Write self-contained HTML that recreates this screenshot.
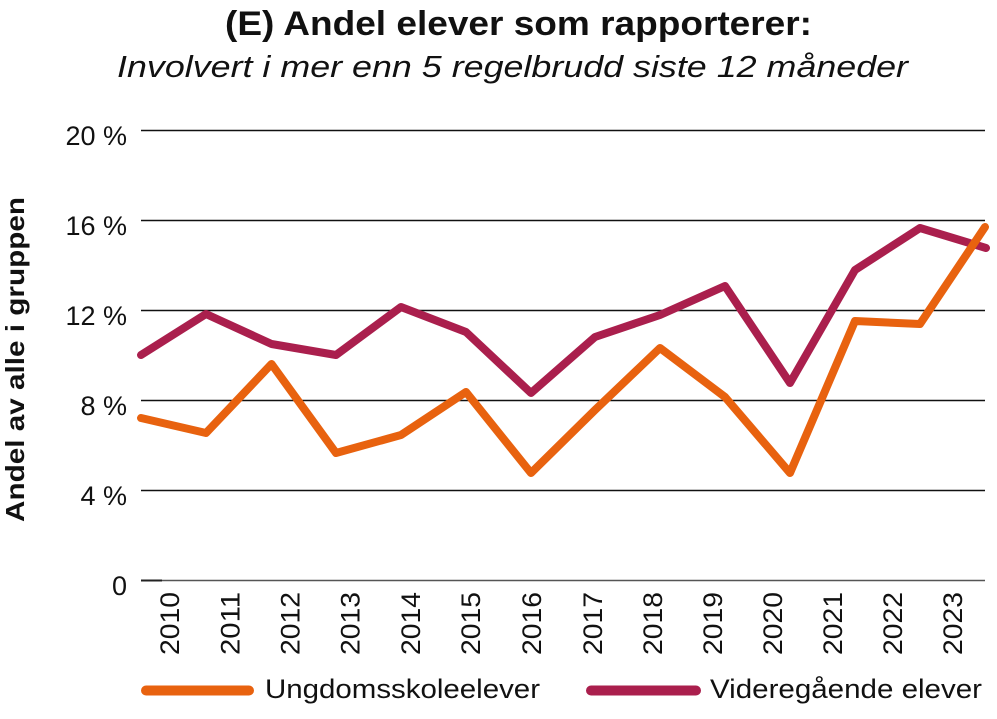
<!DOCTYPE html>
<html>
<head>
<meta charset="utf-8">
<style>
  html, body { margin:0; padding:0; background:#ffffff; }
  svg { display:block; }
  text { font-family: "Liberation Sans", "DejaVu Sans", sans-serif; fill:#111; }
</style>
</head>
<body>
<svg width="997" height="719" viewBox="0 0 997 719" xmlns="http://www.w3.org/2000/svg">
  <rect width="997" height="719" fill="#ffffff"/>

  <!-- Title -->
  <text x="225" y="35" font-size="34" font-weight="bold" textLength="587" lengthAdjust="spacingAndGlyphs">(E) Andel elever som rapporterer:</text>
  <text x="117" y="77" font-size="31" font-style="italic" textLength="791" lengthAdjust="spacingAndGlyphs">Involvert i mer enn 5 regelbrudd siste 12 måneder</text>

  <!-- Gridlines -->
  <g stroke="#111" stroke-width="1.4">
    <line x1="141" y1="130.5" x2="985" y2="130.5"/>
    <line x1="141" y1="220.5" x2="985" y2="220.5"/>
    <line x1="141" y1="310.5" x2="985" y2="310.5"/>
    <line x1="141" y1="400.5" x2="985" y2="400.5"/>
    <line x1="141" y1="490.5" x2="985" y2="490.5"/>
  </g>
  <line x1="141" y1="580.5" x2="985" y2="580.5" stroke="#555" stroke-width="1.6"/>
  <line x1="141" y1="580.5" x2="162" y2="580.5" stroke="#222" stroke-width="2"/>

  <!-- Y tick labels -->
  <g font-size="27" text-anchor="end">
    <text x="127" y="145">20 %</text>
    <text x="127" y="235">16 %</text>
    <text x="127" y="325">12 %</text>
    <text x="127" y="415">8 %</text>
    <text x="127" y="505">4 %</text>
    <text x="127" y="595">0</text>
  </g>

  <!-- Y axis title -->
  <text transform="translate(24,359.5) rotate(-90)" text-anchor="middle" font-size="26" font-weight="bold" textLength="325" lengthAdjust="spacingAndGlyphs">Andel av alle i gruppen</text>

  <!-- X labels (rotated) -->
  <g font-size="27" text-anchor="end">
    <text transform="translate(179,592) rotate(-90)" textLength="63" lengthAdjust="spacingAndGlyphs">2010</text>
    <text transform="translate(239.5,592) rotate(-90)" textLength="63" lengthAdjust="spacingAndGlyphs">2011</text>
    <text transform="translate(299.5,592) rotate(-90)" textLength="63" lengthAdjust="spacingAndGlyphs">2012</text>
    <text transform="translate(359.5,592) rotate(-90)" textLength="63" lengthAdjust="spacingAndGlyphs">2013</text>
    <text transform="translate(420,592) rotate(-90)" textLength="63" lengthAdjust="spacingAndGlyphs">2014</text>
    <text transform="translate(480,592) rotate(-90)" textLength="63" lengthAdjust="spacingAndGlyphs">2015</text>
    <text transform="translate(541,592) rotate(-90)" textLength="63" lengthAdjust="spacingAndGlyphs">2016</text>
    <text transform="translate(602,592) rotate(-90)" textLength="63" lengthAdjust="spacingAndGlyphs">2017</text>
    <text transform="translate(662,592) rotate(-90)" textLength="63" lengthAdjust="spacingAndGlyphs">2018</text>
    <text transform="translate(722,592) rotate(-90)" textLength="63" lengthAdjust="spacingAndGlyphs">2019</text>
    <text transform="translate(782,592) rotate(-90)" textLength="63" lengthAdjust="spacingAndGlyphs">2020</text>
    <text transform="translate(842,592) rotate(-90)" textLength="63" lengthAdjust="spacingAndGlyphs">2021</text>
    <text transform="translate(902,592) rotate(-90)" textLength="63" lengthAdjust="spacingAndGlyphs">2022</text>
    <text transform="translate(962,592) rotate(-90)" textLength="63" lengthAdjust="spacingAndGlyphs">2023</text>
  </g>

  <!-- Series: Videregående (maroon) -->
  <polyline fill="none" stroke="#AA1F4D" stroke-width="8" stroke-linejoin="round" stroke-linecap="round"
    points="141,355 206,314 271.5,344 336,355 401,307 466,332 531,393 595,337 660,315 725,286 790,383 855,270 920,228 986,248"/>

  <!-- Series: Ungdomsskole (orange) -->
  <polyline fill="none" stroke="#E8620F" stroke-width="8" stroke-linejoin="round" stroke-linecap="round"
    points="141,418 206,433 271.5,364 336,453 401,435 466,392 531,473 595,410 660,348 725,397 790,473 855,321 920,324 985,227"/>

  <!-- Legend -->
  <line x1="146" y1="690.5" x2="249" y2="690.5" stroke="#E8620F" stroke-width="10" stroke-linecap="round"/>
  <text x="265" y="698" font-size="27" textLength="275" lengthAdjust="spacingAndGlyphs">Ungdomsskoleelever</text>
  <line x1="591" y1="690.5" x2="696" y2="690.5" stroke="#AA1F4D" stroke-width="10" stroke-linecap="round"/>
  <text x="710" y="698" font-size="27" textLength="272" lengthAdjust="spacingAndGlyphs">Videregående elever</text>
</svg>
</body>
</html>
